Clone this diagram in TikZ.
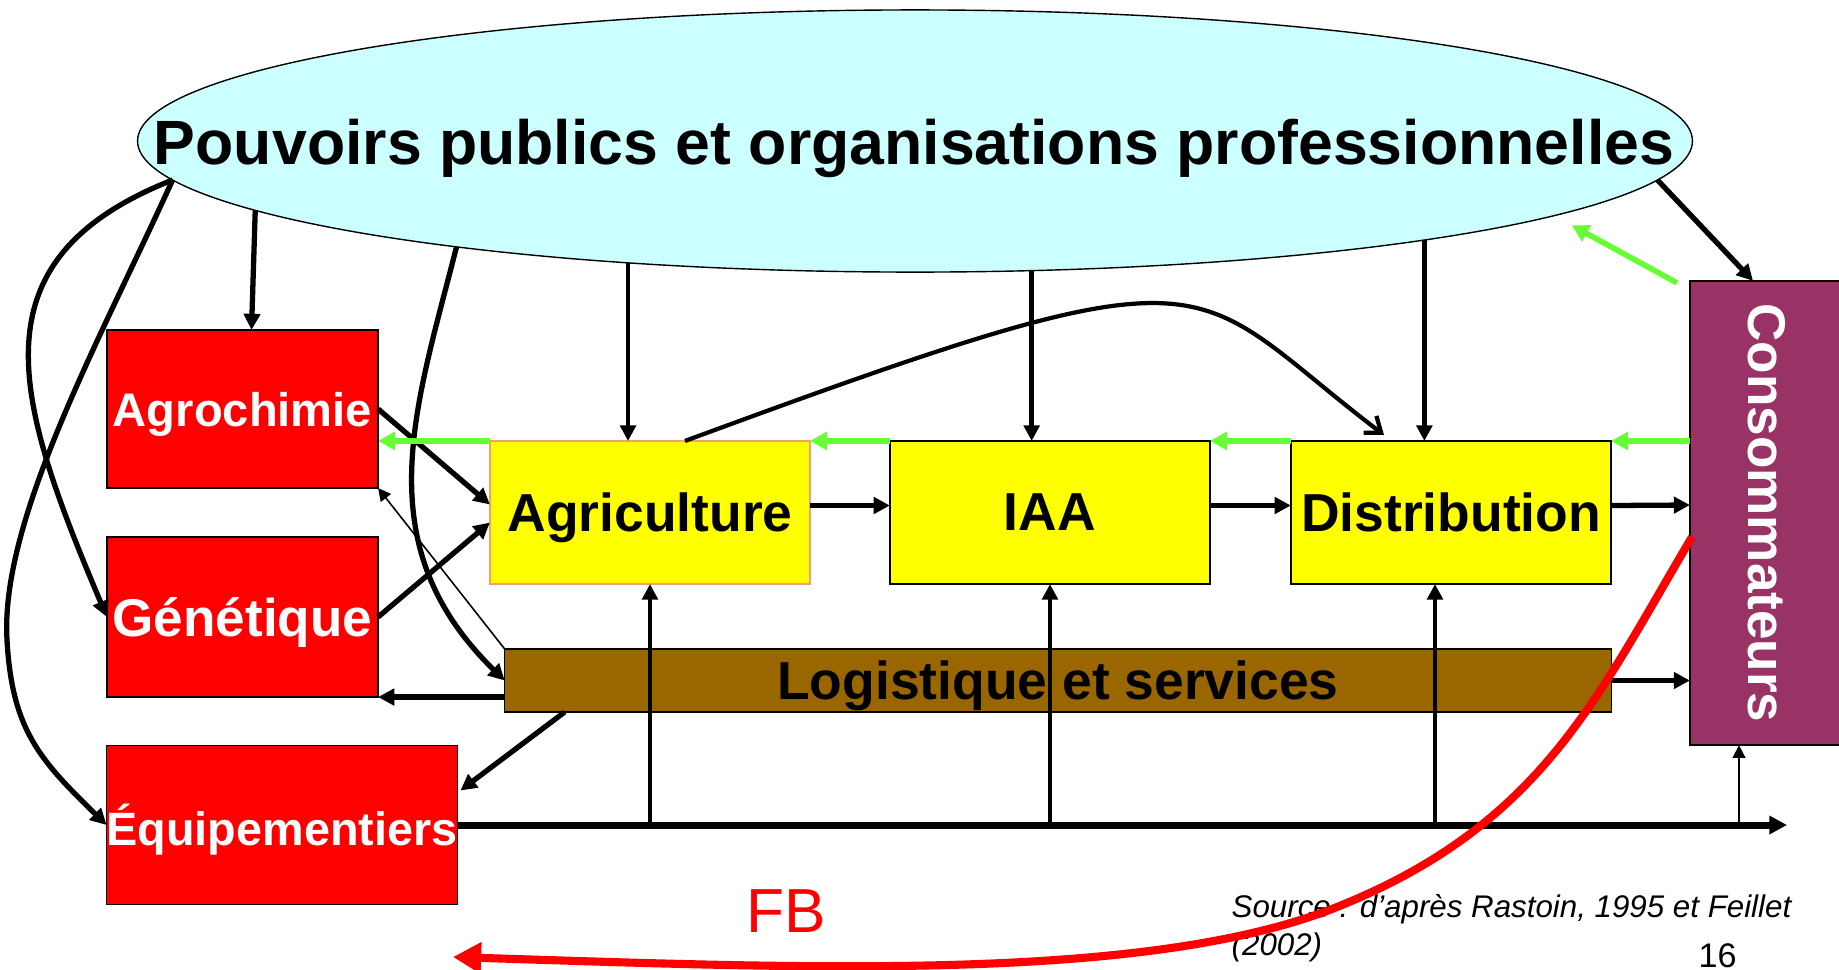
\documentclass[tikz,border=0pt]{standalone}
\usepackage{fontspec}
\setmainfont{Liberation Sans}
\usetikzlibrary{arrows.meta, calc, shapes.geometric}

\definecolor{ppcyan}{HTML}{CCFFFF}
\definecolor{amont}{HTML}{FF0000}
\definecolor{filiere}{HTML}{FFFF00}
\definecolor{logbrown}{HTML}{996600}
\definecolor{consoplum}{HTML}{993366}
\definecolor{retour}{HTML}{66FF33}
\definecolor{agriedge}{HTML}{F0A070}

\begin{document}
\begin{tikzpicture}[x=0.01cm, y=-0.01cm,
    box/.style={rectangle, draw, line width=0.4pt, inner sep=0pt, outer sep=0pt, text depth=0pt},
    redbox/.style={box, fill=amont, text=white, font=\bfseries\fontsize{13.4}{16}\selectfont},
    yelbox/.style={box, fill=filiere, minimum width=3.2cm, minimum height=1.43cm,
                   font=\bfseries\fontsize{15.2}{18}\selectfont},
    arr/.style={line width=1.5pt, -{Triangle[length=4.6pt,width=4.6pt]}},
    vert/.style={line width=1.35pt, -{Triangle[length=4.4pt,width=4.4pt]}},
    thinarr/.style={line width=0.45pt, -{Triangle[length=3.6pt,width=3.6pt]}},
    back/.style={draw=retour, line width=1.6pt, -{Triangle[length=4.8pt,width=5pt]}},
    fb/.style={draw=red, line width=2.3pt, -{Triangle[length=8pt,width=8.5pt]}}]

  \useasboundingbox (0,0) rectangle (1839,969);

  % pouvoirs publics
  \node[ellipse, draw, line width=0.4pt, fill=ppcyan, inner sep=0pt, outer sep=0pt,
        minimum width=15.54cm, minimum height=2.62cm] (pp) at (915,141) {};
  \node[anchor=base, inner sep=0pt, font=\bfseries\fontsize{17.8}{21}\selectfont] (pptxt) at (914,164)
    {Pouvoirs publics et organisations professionnelles};

  % amont
  \node[redbox, minimum width=2.71cm, minimum height=1.58cm] (agro) at (242.5,409) {Agrochimie};
  \node[redbox, minimum width=2.71cm, minimum height=1.60cm,
        font=\bfseries\fontsize{15.1}{18}\selectfont] (gen) at (242.5,617) {Génétique};
  \node[redbox, minimum width=3.50cm, minimum height=1.59cm,
        font=\bfseries\fontsize{13.3}{16}\selectfont] (equip) at (282,825) {Équipementiers};

  % filiere
  \node[yelbox, draw=agriedge] (agri) at (650,512.5) {Agriculture};
  \node[yelbox] (iaa) at (1050,512.5) {IAA};
  \node[yelbox] (dist) at (1451,512.5) {Distribution};
  \node[box, fill=logbrown, minimum width=11.06cm, minimum height=0.63cm,
        font=\bfseries\fontsize{15.2}{18}\selectfont] (logi) at (1058,680.5) {Logistique et services};

  % consommateurs
  \node[box, fill=consoplum, minimum width=1.5cm, minimum height=4.64cm] (conso) at (1765,513) {};
  \node[rotate=-90, inner sep=0pt, text=white, font=\bfseries\fontsize{15.1}{18}\selectfont]
    (consotxt) at (1767,513) {Consommateurs};

  % arrows out of the ellipse
  \draw[arr] (pp.186.7) -- ($(agro.north)+(9,0)$);
  \draw[arr] (pp.183.5) .. controls (-30,260) and (15,400) .. (gen.west);
  \draw[arr] (pp.183) .. controls (100,340) and (0,520) .. (7,640)
                      .. controls (12,730) and (40,760) .. (equip.west);
  \draw[arr] (pp.193.06) .. controls (416,407) and (365,544) .. (logi.west);
  \draw[vert] (pp.203.5) -- (pp.203.5 |- agri.north);
  \draw[vert] (pp.312.7) -- (pp.312.7 |- iaa.north);
  \draw[vert] (pp.349.4) -- (pp.349.4 |- dist.north);
  \draw[arr] (pp.357) -- ($(conso.north)+(-12,0)$);
  \draw[back] ($(conso.north west)+(-13,2)$) -- ($(pp.354)+(-3,15)$);

  % amont -> agriculture, logistique -> amont
  \draw[arr] (agro.east) -- ($(agri.west)+(0,-8)$);
  \draw[arr] (gen.east) -- ($(agri.west)+(0,10)$);
  \draw[thinarr] (logi.north west) -- (agro.south east);
  \draw[arr] (logi.west |- gen.south east) -- (gen.south east);
  \draw[arr] ($(logi.south west)+(60,0)$) -- ($(equip.north east)+(3,45)$);

  % chain
  \draw[arr] ($(agri.east)+(0,-7)$) -- ($(iaa.west)+(0,-7)$);
  \draw[arr] ($(iaa.east)+(0,-7)$) -- ($(dist.west)+(0,-7)$);
  \draw[arr] ($(dist.east)+(0,-7)$) -- ($(conso.west)+(0,-8)$);
  \draw[arr] (logi.east) -- (logi.east -| conso.west);
  \draw[line width=1.2pt, -{Straight Barb[length=4pt,width=6pt]}]
    ($(agri.north)+(35,0)$) .. controls (1235,238) and (1180,280) .. ($(dist.north)+(-67,-6)$);

  % green feedback along the top edges
  \draw[back] (agri.north west) -- (agri.north west -| agro.east);
  \draw[back] (iaa.north west) -- (agri.north east);
  \draw[back] (dist.north west) -- (iaa.north east);
  \draw[back] (dist.north east -| conso.west) -- (dist.north east);

  % bottom line from equipementiers
  \coordinate (axend) at (1787,825);
  \draw[line width=2pt, -{Triangle[length=5pt,width=5pt]}] (equip.east) -- (axend);
  \draw[vert] (agri.south |- equip.east) -- (agri.south);
  \draw[vert] (iaa.south |- equip.east) -- (iaa.south);
  \draw[vert] ($(dist.south |- equip.east)+(-16,0)$) -- ($(dist.south)+(-16,0)$);
  \draw[thinarr] ($(conso.south |- equip.east)+(-26,0)$) -- ($(conso.south)+(-26,0)$);

  % texts
  \node[text=red, inner sep=0pt, anchor=base, font=\fontsize{17.7}{21}\selectfont] (fbtxt) at (786,932) {FB};
  \node[anchor=base west, align=left, inner sep=0pt, font=\itshape\fontsize{8.9}{10.8}\selectfont]
    (src) at (1231,955) {Source : d’après Rastoin, 1995 et Feillet\\(2002)};
  \node[anchor=base west, inner sep=0pt, font=\fontsize{9.7}{11}\selectfont] (page) at (1698,967) {16};

  % FB curve
  \coordinate (fbend) at (453,957);
  \draw[fb] ($(conso.west)+(2,24)$) .. controls (1597,697) and (1542,825) .. (1337,907)
            .. controls (1147,983) and (800,968) .. (fbend);

\end{tikzpicture}
\end{document}
